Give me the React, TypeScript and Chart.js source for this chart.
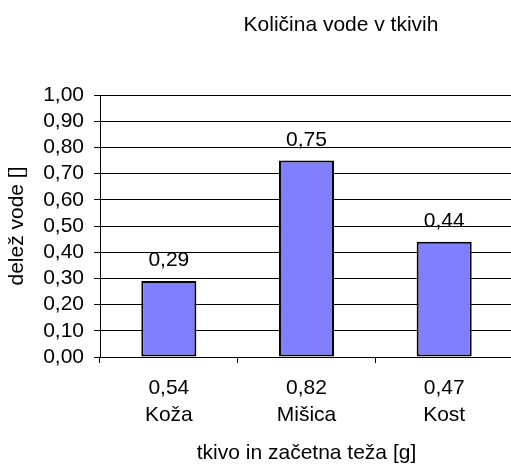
import React, { useEffect, useRef } from "react";
import { Chart, registerables } from "chart.js";

Chart.register(...registerables);

const chartTitle = "Količina vode v tkivih";
const categories = ["Koža", "Mišica", "Kost"];
const initialWeights = ["0,54", "0,82", "0,47"];
const waterShare = [0.29, 0.75, 0.44];
const yAxisTitle = "delež vode []";
const xAxisTitle = "tkivo in začetna teža [g]";
const yMin = 0;
const yMax = 1;
const yStep = 0.1;

const FONT_FAMILY = "'Liberation Sans', Arial, sans-serif";
const fmt = (v: number) => v.toFixed(2).replace(".", ",");

const titlePlugin = {
  id: "customTitle",
  afterDraw(chart: any) {
    const ctx = chart.ctx;
    ctx.save();
    ctx.font = `21px ${FONT_FAMILY}`;
    ctx.fillStyle = "#000";
    ctx.textAlign = "center";
    ctx.textBaseline = "alphabetic";
    ctx.fillText(chartTitle, 341, 31);
    ctx.restore();
  },
};

const valueLabelPlugin = {
  id: "valueLabels",
  afterDatasetsDraw(chart: any) {
    const ctx = chart.ctx;
    const meta = chart.getDatasetMeta(0);
    ctx.save();
    ctx.font = `21px ${FONT_FAMILY}`;
    ctx.fillStyle = "#000";
    ctx.textAlign = "center";
    ctx.textBaseline = "alphabetic";
    meta.data.forEach((bar: any, i: number) => {
      ctx.fillText(fmt(waterShare[i]), bar.x, bar.y - 15);
    });
    ctx.restore();
  },
};

export default function App() {
  const canvasRef = useRef<HTMLCanvasElement | null>(null);

  useEffect(() => {
    if (!canvasRef.current) return;
    const font = { family: FONT_FAMILY, size: 21 };
    const chart = new Chart(canvasRef.current, {
      type: "bar",
      data: {
        labels: categories.map((c, i) => [initialWeights[i], c]),
        datasets: [
          {
            data: waterShare,
            backgroundColor: "#8080FF",
            borderColor: "#000000",
            borderWidth: 2,
            borderSkipped: false,
            barPercentage: 0.4,
            categoryPercentage: 1,
          },
        ],
      },
      options: {
        responsive: false,
        animation: false,
        devicePixelRatio: 1,
        layout: { padding: { top: 95, right: 7, left: 0, bottom: 0 } },
        plugins: {
          legend: { display: false },
          tooltip: { enabled: false },
          title: { display: false },
        },
        scales: {
          x: {
            grid: {
              offset: true,
              drawOnChartArea: false,
              drawTicks: true,
              tickLength: 6,
              color: "#000",
            },
            border: { color: "#000", width: 1 },
            ticks: {
              color: "#000",
              font: { ...font, lineHeight: 27 / 21 },
              padding: 12,
              maxRotation: 0,
              autoSkip: false,
            },
            title: {
              display: true,
              text: xAxisTitle,
              color: "#000",
              font: { ...font, lineHeight: 1 },
              padding: { top: 0, bottom: 0 },
            },
            afterFit: (s: any) => {
              s.height = 107;
            },
          },
          y: {
            min: yMin,
            max: yMax,
            grid: { color: "#000", tickLength: 6, lineWidth: 1 },
            border: { color: "#000", width: 1 },
            ticks: {
              stepSize: yStep,
              autoSkip: false,
              color: "#000",
              font: { ...font, lineHeight: 1 },
              padding: 10,
              callback: (v: any) => fmt(Number(v)),
            },
            title: {
              display: true,
              text: yAxisTitle,
              color: "#000",
              font: { ...font, lineHeight: 1 },
              padding: { top: 6.5, bottom: 0 },
            },
            afterFit: (s: any) => {
              s.width = 100;
            },
          },
        },
      },
      plugins: [titlePlugin, valueLabelPlugin],
    } as any);
    return () => chart.destroy();
  }, []);

  return (
    <div
      style={{
        position: "absolute",
        left: 0,
        top: 0,
        width: 511,
        height: 464,
        overflow: "hidden",
        background: "#fff",
      }}
    >
      <canvas ref={canvasRef} width={520} height={464} style={{ width: 520, height: 464, display: "block" }} />
    </div>
  );
}
